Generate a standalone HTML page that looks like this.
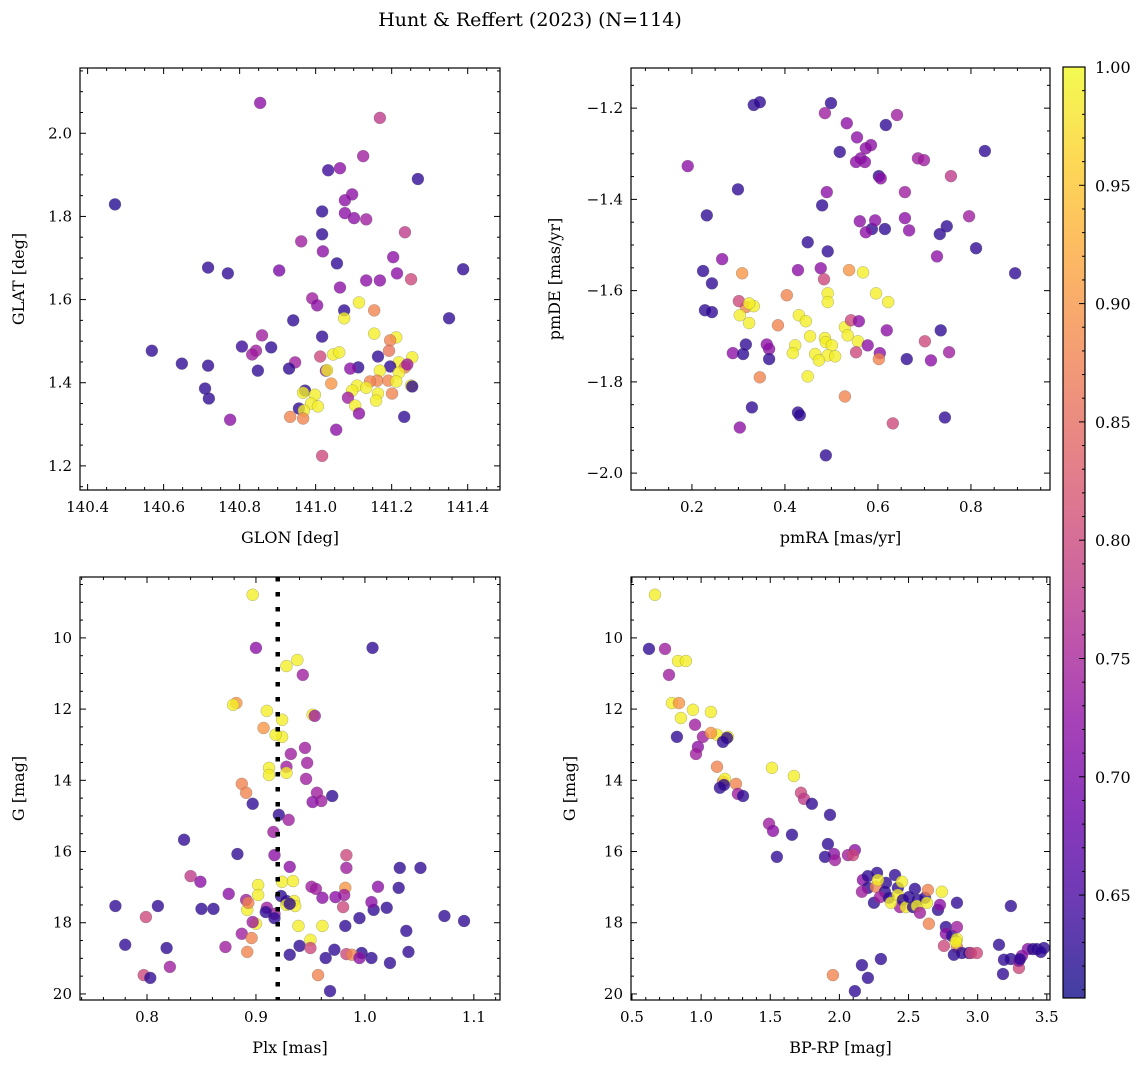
<!DOCTYPE html>
<html><head><meta charset="utf-8"><style>
body{margin:0;background:#fff;}
svg text{font-family:"DejaVu Serif","Liberation Serif",serif;fill:#000;}
</style></head><body>
<svg id="fig" width="1148" height="1067" viewBox="0 0 1148 1067" xmlns="http://www.w3.org/2000/svg">
<text x="530" y="26" font-size="19" text-anchor="middle" style="font-family:'DejaVu Serif','Liberation Serif',serif">Hunt &amp; Reffert (2023) (N=114)</text>
</svg>
<script>
// ---- Panel 1: GLON / GLAT ----
const p1Glon=[140.472,140.854,141.169,141.125,141.064,141.033,141.269,141.096,141.077,141.077,141.017,141.101,141.133,141.235,141.017,140.962,141.019,141.056,141.204,140.717,141.388,140.904,140.769,141.214,141.133,141.169,141.251,141.064,141.114,140.991,141.004,141.154,141.075,141.351,140.941,141.075,141.017,140.859,141.154,141.212,140.569,140.806,140.883,140.843,140.833,141.196,141.193,141.164,141.046,141.062,141.012,141.254,141.219,140.946,140.648,140.717,141.196,141.235,141.027,141.112,141.169,141.091,141.241,140.848,140.930,141.219,141.162,141.191,141.143,141.212,141.109,141.133,141.096,141.164,141.041,141.251,141.254,140.709,141.085,140.972,141.159,141.201,140.967,140.998,140.719,140.988,141.104,140.956,140.969,141.006,141.114,140.933,140.967,141.233,140.775,141.054,141.017,141.030];
const p1Glat=[1.829,2.073,2.037,1.945,1.916,1.911,1.890,1.853,1.839,1.808,1.812,1.796,1.793,1.762,1.757,1.740,1.716,1.687,1.702,1.677,1.673,1.670,1.663,1.663,1.646,1.646,1.649,1.629,1.593,1.603,1.586,1.574,1.574,1.555,1.550,1.555,1.511,1.514,1.518,1.509,1.477,1.487,1.485,1.477,1.468,1.502,1.477,1.463,1.468,1.473,1.463,1.461,1.449,1.449,1.446,1.441,1.439,1.437,1.429,1.437,1.429,1.434,1.444,1.429,1.434,1.424,1.405,1.405,1.403,1.403,1.393,1.388,1.381,1.374,1.398,1.393,1.391,1.386,1.364,1.381,1.357,1.374,1.376,1.371,1.362,1.350,1.345,1.338,1.333,1.343,1.326,1.318,1.314,1.318,1.311,1.287,1.224,1.430];
const p1Prob=[.62,.72,.78,.74,.72,.64,.63,.72,.72,.72,.63,.72,.74,.78,.63,.74,.72,.63,.72,.63,.63,.70,.63,.72,.72,.72,.80,.72,.99,.74,.72,.88,.63,.63,.63,.99,.63,.74,.99,.99,.63,.64,.63,.74,.74,.88,.86,.63,.99,.99,.80,.99,.99,.74,.63,.63,.63,.88,.72,.63,.99,.72,.74,.63,.63,.99,.88,.88,.88,.99,.99,.99,.99,.99,.90,.99,.63,.63,.74,.63,.99,.88,.99,.99,.63,.99,.99,.63,.99,.99,.72,.88,.88,.63,.72,.72,.80,.99];
// ---- Panel 2: pmRA / pmDE ----
const p2PmRA=[0.333,0.346,0.499,0.486,0.617,0.641,0.533,0.555,0.585,0.574,0.563,0.572,0.553,0.686,0.699,0.830,0.518,0.191,0.299,0.490,0.480,0.602,0.606,0.658,0.757,0.796,0.658,0.748,0.561,0.587,0.574,0.615,0.667,0.594,0.232,0.733,0.449,0.492,0.811,0.265,0.895,0.727,0.224,0.243,0.477,0.484,0.428,0.568,0.538,0.308,0.316,0.333,0.404,0.492,0.596,0.492,0.622,0.228,0.301,0.323,0.303,0.243,0.323,0.430,0.445,0.385,0.529,0.542,0.559,0.619,0.535,0.454,0.486,0.488,0.557,0.316,0.366,0.288,0.361,0.422,0.417,0.501,0.465,0.578,0.604,0.735,0.701,0.662,0.753,0.310,0.366,0.492,0.508,0.553,0.602,0.714,0.449,0.346,0.473,0.529,0.632,0.428,0.329,0.432,0.303,0.744,0.488];
const p2PmDE=[-1.193,-1.187,-1.189,-1.211,-1.237,-1.215,-1.233,-1.264,-1.281,-1.288,-1.310,-1.318,-1.318,-1.310,-1.314,-1.294,-1.296,-1.327,-1.378,-1.384,-1.413,-1.349,-1.354,-1.384,-1.349,-1.437,-1.441,-1.459,-1.448,-1.465,-1.472,-1.465,-1.468,-1.446,-1.435,-1.476,-1.494,-1.514,-1.507,-1.531,-1.562,-1.525,-1.557,-1.584,-1.551,-1.575,-1.555,-1.560,-1.555,-1.562,-1.636,-1.634,-1.610,-1.606,-1.606,-1.625,-1.625,-1.643,-1.623,-1.628,-1.654,-1.647,-1.671,-1.654,-1.667,-1.676,-1.680,-1.665,-1.667,-1.687,-1.698,-1.700,-1.704,-1.713,-1.711,-1.718,-1.728,-1.737,-1.718,-1.720,-1.737,-1.720,-1.739,-1.720,-1.737,-1.687,-1.711,-1.750,-1.735,-1.739,-1.750,-1.742,-1.744,-1.735,-1.750,-1.753,-1.788,-1.790,-1.753,-1.832,-1.891,-1.867,-1.856,-1.873,-1.900,-1.878,-1.961];
const p2Prob=[.63,.63,.63,.74,.63,.74,.72,.72,.72,.72,.72,.72,.72,.74,.74,.63,.63,.72,.63,.72,.63,.63,.72,.74,.78,.74,.72,.63,.72,.63,.72,.63,.72,.72,.63,.63,.63,.63,.63,.72,.63,.72,.63,.63,.72,.80,.72,.99,.90,.90,.88,.99,.88,.99,.99,.99,.99,.63,.80,.99,.99,.63,.99,.99,.99,.88,.99,.80,.72,.72,.99,.99,.99,.99,.99,.63,.72,.72,.72,.99,.99,.99,.99,.72,.72,.63,.80,.63,.74,.63,.63,.99,.99,.80,.88,.72,.99,.88,.99,.88,.80,.63,.63,.63,.72,.63,.63];
// ---- Panel 3: Plx / G ----
const p3Plx=[0.897,0.900,1.007,0.938,0.928,0.943,0.882,0.879,0.910,0.924,0.952,0.954,0.907,0.924,0.918,0.945,0.932,0.947,0.912,0.912,0.928,0.928,0.946,0.887,0.891,0.956,0.960,0.952,0.970,0.897,0.921,0.930,0.916,0.917,0.983,0.834,0.883,0.983,0.931,0.840,0.849,1.032,1.051,1.012,0.875,0.902,0.924,0.934,0.951,0.955,0.982,0.981,1.031,0.902,0.923,0.928,0.935,0.928,0.936,0.917,0.931,0.892,0.891,0.910,0.961,0.973,0.980,1.020,0.810,0.850,0.861,0.771,0.909,0.893,0.917,0.900,0.939,0.961,1.008,1.006,1.073,1.091,0.799,0.897,0.887,0.982,0.995,1.038,0.896,0.950,0.872,0.940,0.950,0.972,0.931,0.983,0.997,1.040,1.006,1.023,0.780,0.818,0.892,0.964,0.988,0.821,0.797,0.803,0.957,0.968,0.995];
const p3G=[8.79,10.28,10.28,10.62,10.79,11.04,11.83,11.88,12.05,12.30,12.16,12.19,12.53,12.78,12.72,13.09,13.26,13.51,13.65,13.85,13.62,13.79,13.96,14.10,14.35,14.35,14.58,14.61,14.44,14.66,14.97,15.11,15.45,16.10,16.10,15.67,16.07,16.46,16.43,16.69,16.85,16.46,16.46,16.99,17.19,16.94,16.85,16.83,16.99,17.05,17.02,17.22,17.02,17.22,17.25,17.39,17.39,17.50,17.53,17.75,17.47,17.64,17.36,17.58,17.30,17.28,17.56,17.58,17.53,17.61,17.61,17.53,17.70,17.44,17.87,18.03,18.09,18.09,17.64,17.42,17.81,17.95,17.84,17.98,18.31,18.09,17.87,18.23,18.43,18.48,18.68,18.65,18.71,18.76,18.90,18.88,18.85,18.82,18.99,19.13,18.62,18.71,18.82,18.99,18.90,19.24,19.47,19.55,19.47,19.92,18.99];
const p3Prob=[.99,.72,.63,.99,.99,.74,.90,.99,.99,.99,.99,.74,.90,.99,.99,.74,.74,.74,.99,.99,.74,.99,.74,.88,.88,.74,.74,.72,.63,.63,.63,.74,.74,.72,.80,.63,.63,.74,.72,.78,.72,.63,.63,.72,.72,.99,.99,.99,.74,.74,.90,.74,.63,.99,.63,.63,.99,.99,.99,.74,.63,.99,.74,.74,.72,.72,.80,.63,.63,.63,.63,.63,.63,.88,.63,.99,.99,.99,.63,.72,.63,.63,.80,.74,.74,.63,.63,.63,.88,.99,.74,.63,.80,.63,.63,.80,.63,.63,.63,.63,.63,.63,.88,.63,.88,.74,.80,.63,.88,.63,.72];
const plxRef=0.92;
// ---- Panel 4: BP-RP / G ----
const p4Bprp=[0.666,0.623,0.739,0.768,0.833,0.890,0.789,0.840,0.854,0.941,1.071,1.115,1.194,0.956,0.825,1.013,1.071,0.977,0.963,1.187,1.158,1.115,1.158,1.252,1.172,1.266,1.136,1.165,1.303,1.512,1.671,1.722,1.744,1.491,1.520,1.657,1.801,1.932,1.917,1.961,1.548,1.896,1.968,2.062,2.112,2.098,2.170,2.206,2.272,2.337,2.206,2.163,2.250,2.264,2.279,2.329,2.423,2.402,2.293,2.358,2.438,2.373,2.423,2.459,2.452,2.481,2.532,2.568,2.561,2.582,2.503,2.546,2.619,2.640,2.633,2.647,2.713,2.727,2.741,2.770,2.770,2.850,2.814,2.756,2.850,2.850,2.850,2.843,2.828,2.886,2.937,2.951,2.994,3.240,3.183,3.240,3.298,3.298,3.363,3.320,3.305,3.399,3.428,3.479,3.457,3.190,3.154,1.953,2.163,2.206,2.300,2.112];
const p4G=[8.79,10.31,10.31,11.04,10.65,10.65,11.83,11.83,12.25,12.02,12.08,12.72,12.78,12.44,12.78,12.78,12.67,13.06,13.26,12.81,12.92,13.62,14.04,14.10,13.96,14.38,14.21,14.13,14.44,13.65,13.88,14.35,14.52,15.22,15.42,15.53,14.66,14.97,15.79,16.07,16.15,16.15,16.24,16.10,15.96,16.10,16.80,16.69,16.60,16.88,17.02,17.13,17.44,16.99,16.80,17.13,17.02,16.66,17.28,17.30,17.56,17.44,17.22,17.36,16.85,17.56,17.56,17.36,17.53,17.72,17.28,17.05,17.30,17.08,17.44,18.03,17.64,17.50,17.13,18.12,18.31,17.44,18.37,18.65,18.12,18.68,18.46,18.54,18.90,18.85,18.85,18.85,18.85,17.53,19.44,19.02,19.27,19.07,18.74,18.93,19.02,18.74,18.74,18.71,18.82,19.04,18.62,19.47,19.19,19.55,19.02,19.92];
const p4Prob=[.99,.63,.74,.74,.99,.99,.99,.90,.99,.99,.99,.99,.99,.74,.63,.74,.90,.72,.74,.63,.63,.88,.88,.88,.99,.74,.63,.63,.63,.99,.99,.80,.78,.74,.72,.63,.63,.63,.63,.72,.63,.63,.74,.74,.72,.80,.72,.63,.63,.63,.63,.74,.63,.88,.99,.63,.63,.63,.74,.63,.74,.99,.99,.63,.99,.99,.63,.63,.99,.74,.63,.63,.63,.88,.99,.88,.63,.72,.99,.63,.72,.63,.63,.80,.74,.88,.99,.99,.63,.63,.63,.80,.80,.63,.63,.63,.80,.72,.72,.72,.63,.63,.63,.63,.63,.63,.63,.88,.63,.63,.63,.63];
const cMin=0.6065, cMax=1.0;
const cbTicks=[0.65,0.70,0.75,0.80,0.85,0.90,0.95,1.00];

const NS="http://www.w3.org/2000/svg";
const svg=document.getElementById('fig');
function mk(tag,attrs,parent){const e=document.createElementNS(NS,tag);for(const k in attrs)e.setAttribute(k,attrs[k]);(parent||svg).appendChild(e);return e;}
const plasma=[[13,8,135],[65,4,157],[106,0,168],[143,13,164],[177,42,144],[204,71,120],[225,100,98],[242,132,75],[252,166,54],[252,206,37],[240,249,33]];
function cmap(v){let t=(v-cMin)/(cMax-cMin);t=Math.max(0,Math.min(1,t))*10;const i=Math.min(9,Math.floor(t)),f=t-i;const a=plasma[i],b=plasma[i+1];return 'rgb('+a.map((x,k)=>Math.round(x+(b[k]-x)*f)).join(',')+')';}
function fmt(v,d){const s=Math.abs(v).toFixed(d);return (v<-1e-9?'\u2212':'')+s;}

function panel(cfg){
  const {L,R,T,B,x0,x1,y0,y1,xs,ys,cs,xMaj,xMin,yMaj,yMin,xd,yd,xlab,ylab,name,invert}=cfg;
  const sx=v=>L+(v-x0)/(x1-x0)*(R-L);
  const sy=invert?(v=>T+(v-y0)/(y1-y0)*(B-T)):(v=>B-(v-y0)/(y1-y0)*(B-T));
  const g=mk('g',{});
  
  
  const clip=mk('clipPath',{id:'clip-'+name},g);mk('rect',{x:L,y:T,width:R-L,height:B-T},clip);
  const pts=mk('g',{'clip-path':'url(#clip-'+name+')'},g);
  for(let i=0;i<xs.length;i++){
    const c=mk('circle',{cx:sx(xs[i]),cy:sy(ys[i]),r:6,fill:cmap(cs[i]),'fill-opacity':0.78,stroke:'#666','stroke-opacity':0.5,'stroke-width':0.5},pts);
    
    
  }
  if(cfg.vline!==undefined){
    const l=mk('line',{x1:sx(cfg.vline),x2:sx(cfg.vline),y1:T,y2:B,stroke:'#000','stroke-width':4.5,'stroke-dasharray':'4.5 10.5'},pts);
    
    
  }
  const fr=mk('rect',{x:L,y:T,width:R-L,height:B-T,fill:'none',stroke:'#000','stroke-width':1.2},g);
  
  
  const eps=1e-9;
  for(let v=Math.ceil(x0/xMin-eps)*xMin;v<=x1+eps;v+=xMin){
    const X=sx(v);const maj=Math.abs(v/xMaj-Math.round(v/xMaj))<1e-6;const len=maj?6:3;
    mk('line',{x1:X,x2:X,y1:B,y2:B-len,stroke:'#000','stroke-width':1},g);
    mk('line',{x1:X,x2:X,y1:T,y2:T+len,stroke:'#000','stroke-width':1},g);
    if(maj){const t=mk('text',{x:X,y:B+22,'font-size':15,'text-anchor':'middle'},g);t.textContent=fmt(v,xd);
      
      }
  }
  for(let v=Math.ceil(Math.min(y0,y1)/yMin-eps)*yMin;v<=Math.max(y0,y1)+eps;v+=yMin){
    const Y=sy(v);const maj=Math.abs(v/yMaj-Math.round(v/yMaj))<1e-6;const len=maj?6:3;
    mk('line',{x1:L,x2:L+len,y1:Y,y2:Y,stroke:'#000','stroke-width':1},g);
    mk('line',{x1:R,x2:R-len,y1:Y,y2:Y,stroke:'#000','stroke-width':1},g);
    if(maj){const t=mk('text',{x:L-8,y:Y+5,'font-size':15,'text-anchor':'end'},g);t.textContent=fmt(v,yd);
      
      }
  }
  const xl=mk('text',{x:(L+R)/2,y:B+53,'font-size':16,'text-anchor':'middle'},g);xl.textContent=xlab;
  
  
  const yx=cfg.ylx, yy=(T+B)/2;
  const yl=mk('text',{x:yx,y:yy,'font-size':16,'text-anchor':'middle',transform:'rotate(-90 '+yx+' '+yy+')'},g);yl.textContent=ylab;
  
  
}
panel({name:'glon-glat',L:80,R:500,T:68,B:490,x0:140.38,x1:141.485,y0:1.142,y1:2.157,xs:p1Glon,ys:p1Glat,cs:p1Prob,xMaj:0.2,xMin:0.05,yMaj:0.2,yMin:0.05,xd:1,yd:1,xlab:'GLON [deg]',ylab:'GLAT [deg]',ylx:24});
panel({name:'proper-motion',L:631,R:1050,T:68,B:490,x0:0.069,x1:0.970,y0:-2.037,y1:-1.112,xs:p2PmRA,ys:p2PmDE,cs:p2Prob,xMaj:0.2,xMin:0.05,yMaj:0.2,yMin:0.05,xd:1,yd:1,xlab:'pmRA [mas/yr]',ylab:'pmDE [mas/yr]',ylx:560});
panel({name:'plx-g',L:80,R:500,T:577,B:1000,x0:0.7385,x1:1.124,y0:8.29,y1:20.17,invert:true,xs:p3Plx,ys:p3G,cs:p3Prob,xMaj:0.1,xMin:0.02,yMaj:2,yMin:0.5,xd:1,yd:0,xlab:'Plx [mas]',ylab:'G [mag]',ylx:24,vline:plxRef});
panel({name:'cmd',L:631,R:1050,T:577,B:1000,x0:0.493,x1:3.523,y0:8.29,y1:20.17,invert:true,xs:p4Bprp,ys:p4G,cs:p4Prob,xMaj:0.5,xMin:0.1,yMaj:2,yMin:0.5,xd:1,yd:0,xlab:'BP-RP [mag]',ylab:'G [mag]',ylx:575});

// colorbar
(function(){
  const L=1063,R=1085,T=67,B=998;
  const g=mk('g',{});
  
  
  const defs=mk('defs',{},g);
  const lg=mk('linearGradient',{id:'cbgrad',x1:0,y1:1,x2:0,y2:0},defs);
  for(let i=0;i<=20;i++){const v=cMin+(cMax-cMin)*i/20;mk('stop',{offset:(i/20),'stop-color':cmap(v)},lg);}
  mk('rect',{x:L,y:T,width:R-L,height:B-T,fill:'url(#cbgrad)','fill-opacity':0.78},g);
  mk('rect',{x:L,y:T,width:R-L,height:B-T,fill:'none',stroke:'#000','stroke-width':1.2},g);
  const sy=v=>B-(v-cMin)/(cMax-cMin)*(B-T);
  for(let k=61;k<=100;k++){const v=k/100;const Y=sy(v);const maj=k%5===0;
    mk('line',{x1:R,x2:R-(maj?6:3),y1:Y,y2:Y,stroke:'#000','stroke-width':1},g);}
  cbTicks.forEach(v=>{const t=mk('text',{x:R+10,y:sy(v)+6,'font-size':16},g);t.textContent=v.toFixed(2);
    
    });
})();
</script>
</body></html>
